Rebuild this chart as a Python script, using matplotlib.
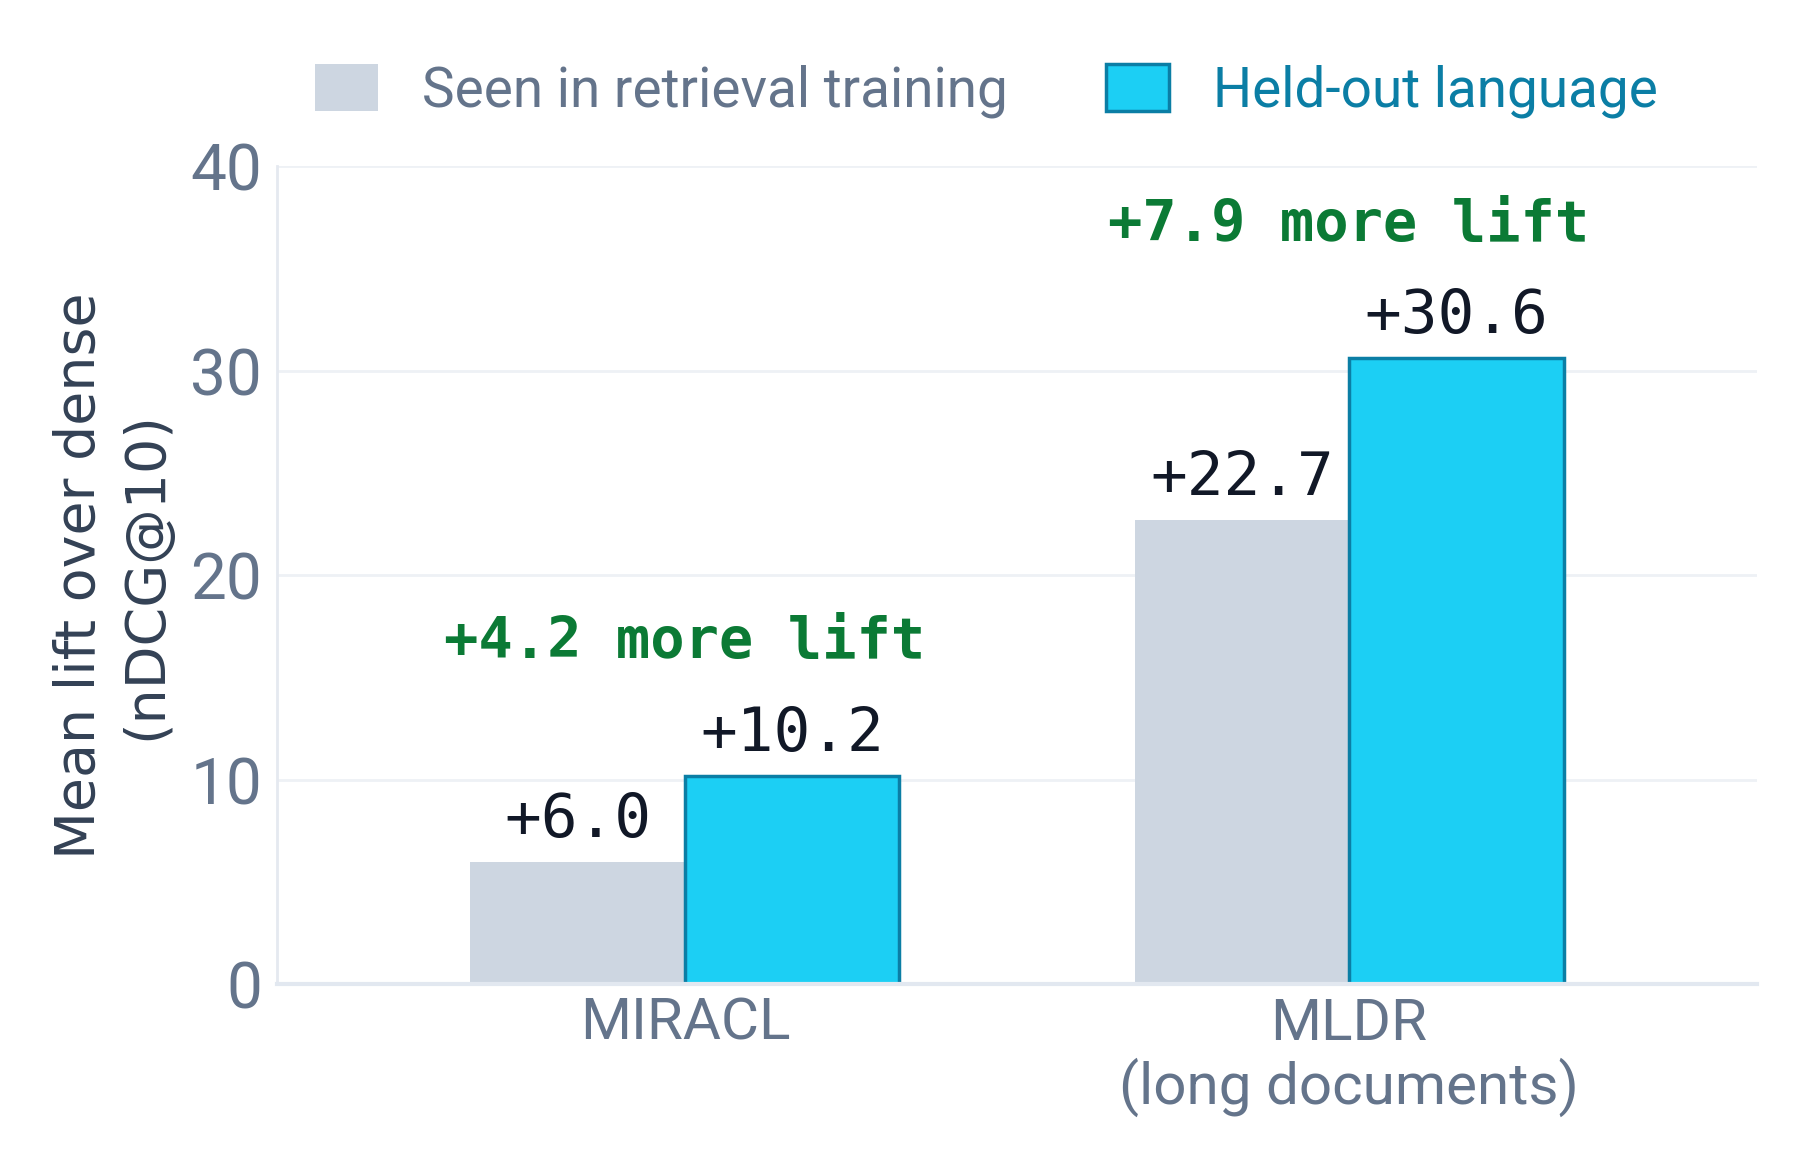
import matplotlib
matplotlib.use("Agg")
import matplotlib.pyplot as plt
from matplotlib.patches import Patch
import numpy as np

categories = ["MIRACL", "MLDR\n(long documents)"]
seen_values = [6.0, 22.7]
heldout_values = [10.2, 30.6]
series_labels = ["Seen in retrieval training", "Held-out language"]
yticks = [0, 10, 20, 30, 40]

SEEN_C = "#cdd6e1"
HELD_C = "#1ccff4"
HELD_EDGE = "#0b7ea5"
GREEN = "#0b7a35"
TICK_C = "#64748b"
LABEL_C = "#334155"
VAL_C = "#111827"

sans = ["Roboto", "DejaVu Sans"]
mono = ["DejaVu Sans Mono"]

fig = plt.figure(figsize=(18, 11.62), dpi=100)
ax = fig.add_axes([0.154, 0.153, 0.822, 0.704])

x = np.arange(len(categories))
w = 0.323
b1 = ax.bar(x - w / 2, seen_values, w, color=SEEN_C, edgecolor="none", zorder=2)
b2 = ax.bar(x + w / 2, heldout_values, w, color=HELD_C, edgecolor=HELD_EDGE,
            linewidth=2.5, zorder=3)

for rect, v in zip(list(b1) + list(b2), seen_values + heldout_values):
    ax.annotate(f"+{v:.1f}", (rect.get_x() + rect.get_width() / 2, rect.get_height()),
                xytext=(0, 18), textcoords="offset points", ha="center", va="baseline",
                fontsize=44, family=mono, color=VAL_C, zorder=5)

for xi, s, h in zip(x, seen_values, heldout_values):
    ax.annotate(f"+{h - s:.1f} more lift", (xi, h), xytext=(0, 96), textcoords="offset points",
                ha="center", va="center", fontsize=41, family=mono, fontweight="bold",
                color=GREEN, zorder=5)

ax.set_xlim(-0.614, 1.614)
ax.set_ylim(0, 40)
ax.set_yticks(yticks)
ax.set_yticklabels([str(t) for t in yticks], fontsize=46, family=sans, color=TICK_C)
ax.set_xticks(x)
ax.set_xticklabels(categories, fontsize=42, family=sans, color=TICK_C, linespacing=1.12)
ax.tick_params(axis="both", length=0)
ax.tick_params(axis="y", pad=11)
ax.tick_params(axis="x", pad=9)

ax.grid(axis="y", color="#eef1f5", linewidth=2, zorder=0)
ax.set_axisbelow(True)
for sp in ["top", "right"]:
    ax.spines[sp].set_visible(False)
ax.spines["left"].set_color("#e5e9f0")
ax.spines["left"].set_linewidth(2)
ax.spines["bottom"].set_color("#e2e8f0")
ax.spines["bottom"].set_linewidth(3)
ax.spines["bottom"].set_zorder(4)

ax.set_ylabel("Mean lift over dense\n(nDCG@10)", fontsize=40, family=["DejaVu Sans"],
              color=LABEL_C, labelpad=12, linespacing=1.3)

handles = [Patch(facecolor=SEEN_C, edgecolor="none"),
           Patch(facecolor=HELD_C, edgecolor=HELD_EDGE, linewidth=2.5)]
leg = fig.legend(handles, series_labels, loc="center", bbox_to_anchor=(0.548, 0.922),
                 ncol=2, frameon=False, prop={"family": sans, "size": 39.5},
                 handlelength=1.15, handleheight=0.95, handletextpad=0.8, columnspacing=1.8)
for t, c in zip(leg.get_texts(), [TICK_C, HELD_EDGE]):
    t.set_color(c)

fig.savefig("out.png", dpi=100, facecolor="white")
